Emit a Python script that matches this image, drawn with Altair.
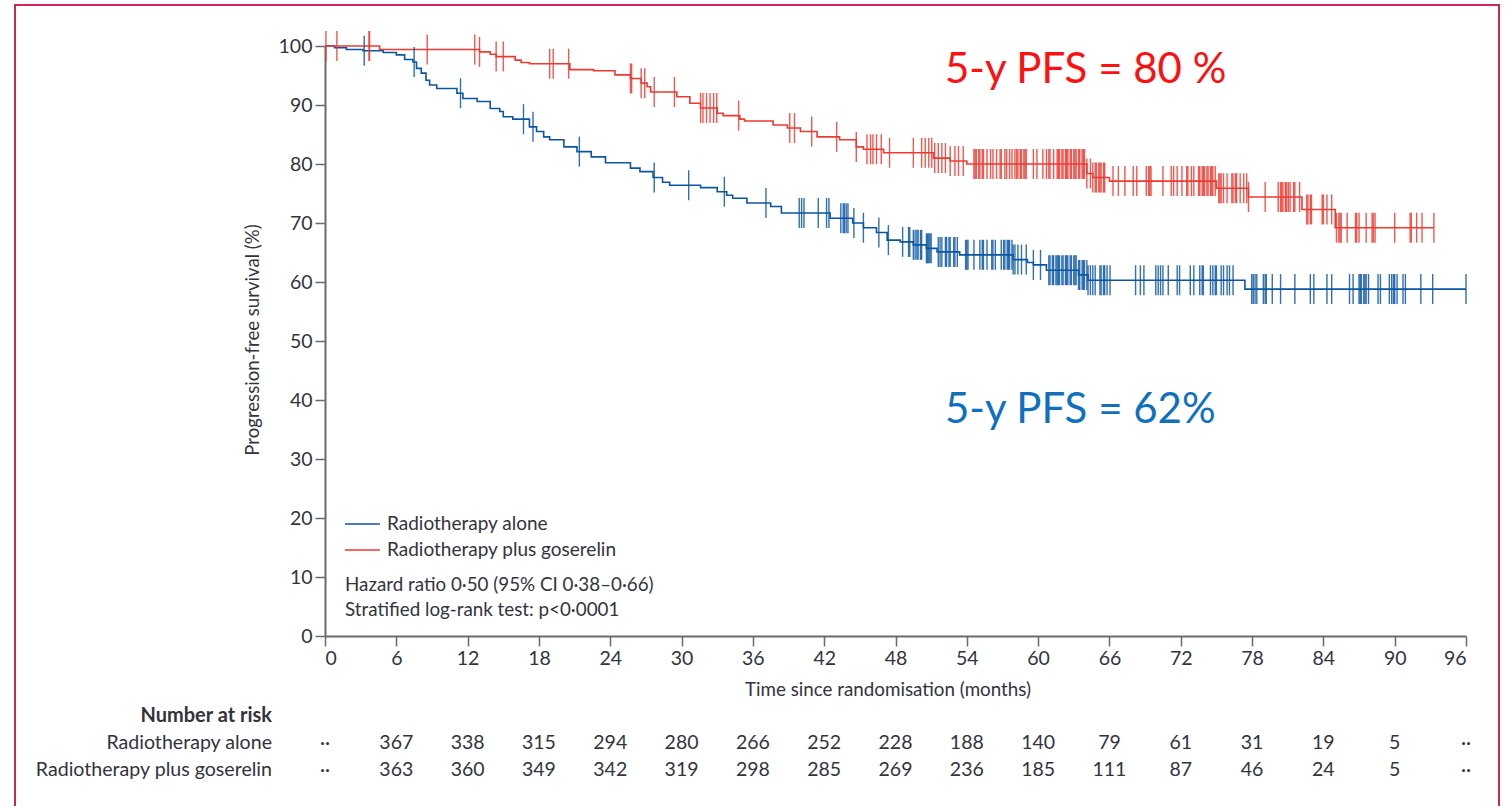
import bisect
import altair as alt
import pandas as pd

FONT = "Lato"
BLUE = "#0B56A4"
RED = "#EE3A30"
TXT = "#333340"
AX = "#6a6a6a"

# ---- Kaplan-Meier step data (months, % progression-free) ----
alone_t = [0, 0.8, 1.8, 3.2, 4.9, 6.0, 6.7, 7.4, 7.7, 8.1, 8.5, 8.8, 9.4, 11.1, 11.6, 12.8, 13.9, 14.7,
           15.0, 15.8, 17.2, 17.8, 18.4, 18.9, 20.1, 21.2, 22.4, 23.6, 25.7, 26.5, 27.6, 28.4, 29.0,
           31.6, 33.0, 33.8, 34.3, 35.5, 37.5, 38.4, 42.5, 44.4, 45.3, 46.4, 47.3, 48.4, 49.5, 50.6,
           51.5, 53.4, 57.9, 59.1, 59.6, 60.7, 63.4, 64.2, 77.4, 96.0]
alone_s = [100, 99.7, 99.4, 99.2, 98.9, 98.5, 97.7, 97.3, 96.2, 95.4, 94.2, 93.4, 92.8, 92.0, 91.1, 90.6,
           89.4, 88.9, 88.0, 87.6, 86.3, 85.5, 84.6, 84.1, 82.9, 82.1, 81.2, 80.2, 79.3, 78.7, 77.7,
           76.9, 76.4, 76.0, 75.3, 74.7, 74.2, 73.4, 72.8, 71.7, 70.8, 70.0, 69.2, 68.4, 67.1, 66.8,
           66.3, 65.7, 65.1, 64.6, 63.8, 63.3, 62.9, 62.0, 61.2, 60.3, 58.8, 58.8]

gos_t = [0, 4.6, 13.0, 13.9, 14.4, 16.0, 16.5, 17.2, 20.6, 22.6, 24.4, 25.7, 26.6, 27.1, 27.4, 29.6,
         30.7, 31.6, 33.0, 33.5, 34.9, 35.3, 37.7, 38.9, 40.0, 41.4, 43.3, 44.7, 45.3, 47.0, 51.2,
         52.6, 54.0, 64.1, 64.6, 66.0, 75.0, 77.7, 82.2, 85.0, 93.3]
gos_s = [100, 99.4, 99.0, 98.6, 98.2, 97.6, 97.2, 97.0, 96.0, 95.8, 95.1, 94.5, 93.7, 93.1, 92.2, 91.4,
         90.3, 89.5, 88.6, 88.2, 87.6, 87.3, 86.6, 86.1, 85.5, 84.6, 84.1, 82.9, 82.5, 81.9, 81.0,
         80.5, 80.0, 78.4, 77.7, 77.1, 75.9, 74.4, 72.3, 69.2, 69.2]

# ---- censoring times (months) ----
alone_cens = [3.3, 7.5, 11.4, 16.7, 17.5, 21.4, 27.7, 30.6, 33.6, 37.1, 39.9, 40.1, 40.3, 41.5, 42.2,
              42.4, 43.4, 43.6, 43.7, 43.85, 44.0, 44.5, 45.3, 46.6, 47.4, 48.6, 49.1, 49.2, 49.5, 49.65,
              49.8, 49.9, 50.1, 50.2, 50.6, 50.7, 50.8, 50.9, 51.0, 51.6, 51.75, 51.9, 52.2, 52.3, 52.5,
              52.6, 52.9, 53.0, 53.2, 53.9, 54.0, 54.1, 54.6, 55.1, 55.3, 55.4, 55.7, 56.1, 56.2, 56.4,
              56.9, 57.1, 57.2, 57.4, 57.5, 57.6, 57.8, 57.9, 58.05, 58.3, 58.6, 59.0, 59.6, 60.2,
              60.9, 61.0, 61.2, 61.3, 61.5, 61.6, 61.7, 61.8, 62.0, 62.1, 62.3, 62.4, 62.5, 62.7,
              62.8, 63.0, 63.1, 63.2, 63.4, 63.5, 63.7, 63.8, 63.9, 64.1, 64.2, 64.4, 64.6, 64.8,
              65.2, 65.3, 65.5, 65.6, 65.8, 66.05, 68.2, 68.6, 68.9, 69.9, 70.1, 70.3, 70.5, 70.95,
              71.7, 71.9, 72.8, 73.1, 73.6, 73.8, 73.9, 74.5, 74.7, 74.9, 75.0, 75.4, 75.6, 75.9,
              76.1, 76.4, 77.97, 78.1, 78.25, 78.4, 78.95, 79.1, 79.2, 79.7, 80.4, 81.6, 82.9, 83.2,
              84.3, 84.7, 86.2, 86.5, 87.0, 87.1, 87.2, 87.4, 87.5, 87.6, 87.8, 88.6, 88.8, 89.55,
              89.75, 89.9, 90.0, 90.2, 90.7, 90.9, 92.2, 93.2, 96.0]
gos_cens = [0.08, 1.0, 3.7, 3.75, 8.6, 12.6, 13.0, 14.4, 15.0, 18.9, 19.2, 20.5, 25.7, 25.8, 26.6, 26.9,
            27.7, 29.4, 31.6, 31.8, 32.1, 32.4, 32.7, 32.96, 34.8, 39.1, 39.5, 40.95, 43.05, 44.7,
            45.6, 45.9, 46.1, 46.4, 46.8, 47.5, 49.5, 50.2, 50.5, 50.8, 51.05, 51.3, 51.6, 51.9, 52.2,
            52.6, 53.0, 53.3, 53.7, 54.6, 54.7, 54.8, 55.0, 55.1, 55.3, 55.4, 55.7, 56.0, 56.2, 56.5,
            56.8, 56.9, 57.2, 57.35, 57.6, 57.8, 58.05, 58.2, 58.3, 58.5, 58.6, 58.8, 58.9, 59.0,
            59.6, 59.9, 60.4, 60.7, 60.9, 61.0, 61.3, 61.6, 61.7, 61.8, 62.0, 62.1, 62.3, 62.4,
            62.5, 62.7, 62.8, 63.0, 63.1, 63.2, 63.4, 63.5, 63.7, 63.8, 63.9, 64.1, 64.4, 64.6,
            64.8, 64.9, 65.1, 65.2, 65.3, 65.5, 65.6, 66.3, 66.75, 67.3, 68.0, 68.3, 69.1, 69.3,
            69.4, 69.5, 70.5, 71.2, 71.4, 71.7, 72.1, 72.5, 72.6, 72.9, 73.1, 73.5, 73.6, 73.8,
            73.9, 74.0, 74.2, 74.3, 74.5, 74.6, 74.7, 74.9, 75.2, 75.3, 75.4, 75.6, 75.9, 76.3,
            76.4, 76.6, 76.7, 77.0, 77.3, 77.55, 77.7, 79.1, 80.2, 80.4, 80.5, 80.6, 80.8, 80.9,
            81.05, 81.2, 81.5, 81.6, 82.0, 82.6, 82.7, 82.9, 83.0, 83.9, 84.0, 84.3, 84.7, 85.1,
            85.3, 85.4, 85.5, 86.0, 86.7, 86.8, 87.0, 87.6, 88.1, 88.2, 88.35, 90.0, 91.3, 91.4,
            91.85, 92.3, 93.3]

# ---- number at risk ----
risk_times = [0, 6, 12, 18, 24, 30, 36, 42, 48, 54, 60, 66, 72, 78, 84, 90, 96]
risk_alone = ["··", "367", "338", "315", "294", "280", "266", "252", "228", "188", "140", "79", "61",
              "31", "19", "5", "··"]
risk_gos = ["··", "363", "360", "349", "342", "319", "298", "285", "269", "236", "185", "111", "87",
            "46", "24", "5", "··"]

x_ticks = list(range(0, 97, 6))
y_ticks = list(range(0, 101, 10))


def km_at(times, surv, t):
    i = bisect.bisect_right(times, t) - 1
    return surv[max(i, 0)]


steps = pd.DataFrame(
    [{"t": t, "s": s, "arm": "alone"} for t, s in zip(alone_t, alone_s)]
    + [{"t": t, "s": s, "arm": "gos"} for t, s in zip(gos_t, gos_s)]
)
cens = pd.DataFrame(
    [{"t": t, "s": km_at(alone_t, alone_s, t), "arm": "alone"} for t in alone_cens]
    + [{"t": t, "s": km_at(gos_t, gos_s, t), "arm": "gos"} for t in gos_cens]
)
risk = pd.DataFrame({"t": risk_times, "alone": risk_alone, "gos": risk_gos})

W, H = 1141, 590
xs = alt.Scale(domain=[0, 96], nice=False, zero=False)
ys = alt.Scale(domain=[0, 100], nice=False)
color = alt.Color("arm:N", scale=alt.Scale(domain=["alone", "gos"], range=[BLUE, RED]), legend=None)

xaxis = alt.Axis(values=x_ticks, title=None, grid=False, tickSize=10, tickColor=AX, domainColor=AX,
                 domainWidth=2, tickWidth=1.5, labelFont=FONT, labelFontSize=19.5, labelColor=TXT,
                 labelPadding=3)
yaxis = alt.Axis(values=y_ticks, title=None, grid=False, tickSize=10, tickColor=AX, domainColor=AX,
                 domainWidth=2, tickWidth=1.5, labelFont=FONT, labelFontSize=19.5, labelColor=TXT,
                 labelPadding=3)

base_axes = alt.Chart(steps).mark_line(interpolate="step-after", strokeWidth=1.6).encode(
    x=alt.X("t:Q", scale=xs, axis=xaxis),
    y=alt.Y("s:Q", scale=ys, axis=yaxis),
    color=color,
    detail="arm:N",
)

cens_marks = alt.Chart(cens).mark_tick(orient="vertical", size=30, thickness=1.4, opacity=0.85).encode(
    x=alt.X("t:Q", scale=xs),
    y=alt.Y("s:Q", scale=ys),
    color=color,
)


def txt(text, x, y, size=18, color=TXT, align="left", weight="normal", angle=0, baseline="middle"):
    return alt.Chart(pd.DataFrame({"v": [text]})).mark_text(
        font=FONT, fontSize=size, color=color, align=align, baseline=baseline,
        fontWeight=weight, angle=angle
    ).encode(text="v:N", x=alt.value(x), y=alt.value(y))


# legend lines
leg_df = pd.DataFrame({"arm": ["alone", "gos"], "yy": [478, 504]})
leg_lines = alt.Chart(leg_df).mark_rule(strokeWidth=1.6).encode(
    x=alt.value(20), x2=alt.value(55), y=alt.Y("yy:Q", scale=None), color=color
)

risk_a = alt.Chart(risk).mark_text(font=FONT, fontSize=19.5, color=TXT, align="center", baseline="middle").encode(
    x=alt.X("t:Q", scale=xs), y=alt.value(697), text="alone:N")
risk_g = alt.Chart(risk).mark_text(font=FONT, fontSize=19.5, color=TXT, align="center", baseline="middle").encode(
    x=alt.X("t:Q", scale=xs), y=alt.value(724), text="gos:N")

frame = alt.Chart(pd.DataFrame({"a": [0]})).mark_rect(
    fillOpacity=0, stroke="#C8285A", strokeWidth=2
).encode(x=alt.value(-310), x2=alt.value(1174), y=alt.value(-41), y2=alt.value(775))

chart = alt.layer(
    frame,
    base_axes,
    cens_marks,
    leg_lines,
    txt("Radiotherapy alone", 62, 478, size=19),
    txt("Radiotherapy plus goserelin", 62, 504, size=19),
    txt("Hazard ratio 0·50 (95% CI 0·38–0·66)", 20, 539, size=18.8),
    txt("Stratified log-rank test: p<0·0001", 20, 564, size=18.8),
    txt("5-y PFS = 80 %", 620, 24, size=42, color="#FF1010", baseline="middle"),
    txt("5-y PFS = 62%", 620, 364, size=42, color="#1070C0", baseline="middle"),
    txt("Progression-free survival (%)", -72, 294, size=18.6, align="center", angle=270),
    txt("Time since randomisation (months)", 563, 644, size=18.8, align="center"),
    txt("Number at risk", -53, 670, size=20, align="right", weight="bold"),
    txt("Radiotherapy alone", -53, 697, size=19.6, align="right"),
    txt("Radiotherapy plus goserelin", -53, 724, size=19.6, align="right"),
    risk_a,
    risk_g,
).properties(
    width=W, height=H,
    autosize=alt.AutoSizeParams(type="none"),
    padding={"left": 325, "top": 46, "right": 42, "bottom": 170},
    background="white",
).configure_view(stroke=None)

chart.save("out.html", embed_options={"renderer": "svg", "actions": False})
